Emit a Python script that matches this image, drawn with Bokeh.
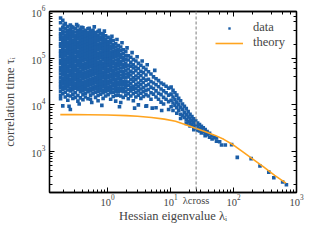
from bokeh.plotting import figure
from bokeh.models import (Span, Legend, LegendItem, LogAxis, CustomJSTickFormatter,
                          Range1d, FixedTicker, LogTickFormatter)
from bokeh.embed import file_html
from bokeh.resources import INLINE

# ---- data (log10 units), grouped by eigenvalue column ----
col_log10_lambda = [
    -0.745, -0.71, -0.67, -0.63, -0.59, -0.55, -0.51, -0.47, -0.43, -0.39,
    -0.35, -0.31, -0.27, -0.23, -0.19, -0.15, -0.11, -0.07, -0.03,
    0.01, 0.05, 0.09, 0.13, 0.17, 0.21, 0.25, 0.29,
    0.33, 0.37, 0.41, 0.45, 0.49, 0.53, 0.57, 0.61,
    0.65, 0.69, 0.73, 0.77, 0.81, 0.85, 0.89, 0.93, 0.97,
    1.01, 1.04, 1.07, 1.10, 1.13, 1.16, 1.19, 1.22, 1.25, 1.28, 1.31, 1.34, 1.37, 1.40,
    1.43, 1.46, 1.49, 1.52, 1.55, 1.58, 1.62, 1.66, 1.70, 1.73, 1.78, 1.81, 1.87, 1.97,
    2.06, 2.28, 2.42, 2.56, 2.64, 2.78, 2.84,
    -0.69, -0.57, -0.49, -0.41, -0.29, -0.21, -0.13, -0.05, 0.07, 0.15, 0.23, 0.31,
    0.39, 0.47, 0.55, 0.63, 0.75,
    -0.61, -0.45, -0.25, -0.09, 0.19, 0.43, 0.62, 0.71, 0.86,
]
col_log10_tau = [
    [5.86, 5.76, 5.62, 5.53, 5.47, 5.40, 5.31, 5.25, 5.16, 5.10, 5.03, 4.95, 4.88, 4.80, 4.73, 4.66, 4.58, 4.51, 4.44, 4.37, 4.29, 4.20, 4.13],
    [5.81, 5.66, 5.58, 5.52, 5.45, 5.39, 5.33, 5.27, 5.20, 5.14, 5.08, 5.01, 4.95, 4.89, 4.83, 4.76, 4.70, 4.64, 4.57, 4.51, 4.45, 4.38, 4.33, 4.24, 3.98],
    [5.74, 5.63, 5.56, 5.49, 5.43, 5.36, 5.30, 5.24, 5.17, 5.11, 5.05, 4.98, 4.92, 4.86, 4.80, 4.73, 4.67, 4.61, 4.54, 4.48, 4.42, 4.35, 4.27, 4.17],
    [5.68, 5.60, 5.53, 5.47, 5.41, 5.34, 5.28, 5.21, 5.15, 5.09, 5.02, 4.96, 4.90, 4.83, 4.77, 4.71, 4.64, 4.58, 4.52, 4.46, 4.39, 4.32, 4.21, 4.10],
    [5.71, 5.62, 5.55, 5.50, 5.44, 5.37, 5.31, 5.25, 5.19, 5.12, 5.06, 5.00, 4.93, 4.87, 4.81, 4.74, 4.68, 4.62, 4.55, 4.49, 4.43, 4.36, 4.30, 4.19, 3.90],
    [5.66, 5.58, 5.52, 5.46, 5.39, 5.33, 5.27, 5.20, 5.14, 5.08, 5.01, 4.95, 4.89, 4.82, 4.76, 4.70, 4.63, 4.57, 4.51, 4.44, 4.38, 4.32, 4.23, 4.14],
    [5.64, 5.56, 5.49, 5.43, 5.36, 5.30, 5.23, 5.17, 5.11, 5.04, 4.98, 4.92, 4.85, 4.79, 4.73, 4.66, 4.60, 4.54, 4.47, 4.41, 4.35, 4.26, 4.16],
    [5.69, 5.60, 5.53, 5.47, 5.41, 5.34, 5.28, 5.22, 5.15, 5.09, 5.03, 4.96, 4.90, 4.84, 4.77, 4.71, 4.65, 4.58, 4.52, 4.46, 4.39, 4.33, 4.20, 4.08],
    [5.62, 5.55, 5.49, 5.42, 5.36, 5.29, 5.23, 5.17, 5.10, 5.04, 4.98, 4.91, 4.85, 4.79, 4.72, 4.66, 4.60, 4.53, 4.47, 4.41, 4.35, 4.28, 4.15],
    [5.65, 5.57, 5.51, 5.44, 5.38, 5.32, 5.25, 5.19, 5.13, 5.06, 5.00, 4.94, 4.87, 4.81, 4.75, 4.68, 4.62, 4.56, 4.49, 4.43, 4.37, 4.30, 4.22, 4.11],
    [5.60, 5.53, 5.46, 5.40, 5.34, 5.27, 5.21, 5.15, 5.08, 5.02, 4.96, 4.89, 4.83, 4.77, 4.70, 4.64, 4.58, 4.51, 4.45, 4.39, 4.33, 4.25, 4.17],
    [5.63, 5.55, 5.48, 5.42, 5.36, 5.29, 5.23, 5.17, 5.10, 5.04, 4.98, 4.91, 4.85, 4.79, 4.72, 4.66, 4.60, 4.53, 4.47, 4.41, 4.34, 4.28, 4.13],
    [5.58, 5.51, 5.44, 5.38, 5.31, 5.25, 5.19, 5.12, 5.06, 5.00, 4.93, 4.87, 4.81, 4.74, 4.68, 4.62, 4.55, 4.49, 4.43, 4.36, 4.30, 4.21, 4.12],
    [5.60, 5.52, 5.46, 5.40, 5.33, 5.27, 5.21, 5.14, 5.08, 5.02, 4.95, 4.89, 4.83, 4.76, 4.70, 4.64, 4.57, 4.51, 4.45, 4.38, 4.32, 4.24],
    [5.55, 5.48, 5.42, 5.35, 5.29, 5.23, 5.16, 5.10, 5.04, 4.97, 4.91, 4.85, 4.78, 4.72, 4.66, 4.59, 4.53, 4.47, 4.40, 4.34, 4.27, 4.16],
    [5.57, 5.49, 5.43, 5.37, 5.30, 5.24, 5.18, 5.11, 5.05, 4.99, 4.92, 4.86, 4.80, 4.73, 4.67, 4.61, 4.54, 4.48, 4.42, 4.35, 4.29, 4.20, 4.09],
    [5.52, 5.45, 5.39, 5.32, 5.26, 5.20, 5.13, 5.07, 5.01, 4.94, 4.88, 4.82, 4.75, 4.69, 4.63, 4.56, 4.50, 4.44, 4.37, 4.31, 4.23],
    [5.53, 5.46, 5.40, 5.34, 5.27, 5.21, 5.15, 5.08, 5.02, 4.96, 4.89, 4.83, 4.77, 4.70, 4.64, 4.58, 4.51, 4.45, 4.39, 4.32, 4.26, 4.14],
    [5.48, 5.41, 5.35, 5.29, 5.22, 5.16, 5.10, 5.03, 4.97, 4.91, 4.84, 4.78, 4.72, 4.65, 4.59, 4.53, 4.46, 4.40, 4.34, 4.28, 4.19],
    [5.45, 5.36, 5.30, 5.23, 5.17, 5.10, 5.04, 4.97, 4.91, 4.84, 4.77, 4.71, 4.64, 4.58, 4.51, 4.45, 4.38, 4.31, 4.22],
    [5.40, 5.33, 5.26, 5.20, 5.13, 5.06, 5.00, 4.93, 4.86, 4.80, 4.73, 4.66, 4.60, 4.53, 4.47, 4.40, 4.33, 4.26, 4.12],
    [5.38, 5.29, 5.22, 5.15, 5.08, 5.01, 4.94, 4.88, 4.81, 4.74, 4.67, 4.61, 4.54, 4.47, 4.41, 4.34, 4.27, 4.18],
    [5.31, 5.24, 5.17, 5.10, 5.03, 4.96, 4.89, 4.82, 4.75, 4.68, 4.62, 4.55, 4.48, 4.41, 4.35, 4.28, 4.20, 4.08],
    [5.27, 5.19, 5.12, 5.05, 4.98, 4.91, 4.84, 4.77, 4.70, 4.63, 4.56, 4.49, 4.43, 4.36, 4.29, 4.21],
    [5.24, 5.16, 5.08, 5.01, 4.93, 4.86, 4.79, 4.72, 4.64, 4.57, 4.50, 4.43, 4.36, 4.30, 4.19, 4.05],
    [5.18, 5.10, 5.02, 4.95, 4.87, 4.80, 4.72, 4.65, 4.58, 4.50, 4.43, 4.36, 4.28, 4.16],
    [5.14, 5.05, 4.97, 4.89, 4.82, 4.74, 4.66, 4.59, 4.51, 4.44, 4.37, 4.29, 4.21],
    [5.05, 4.96, 4.85, 4.77, 4.68, 4.60, 4.49, 4.42, 4.33, 4.24, 4.13],
    [5.02, 4.91, 4.83, 4.72, 4.64, 4.55, 4.46, 4.38, 4.30, 4.19],
    [4.97, 4.86, 4.79, 4.69, 4.58, 4.51, 4.40, 4.33, 4.24, 4.09],
    [4.94, 4.81, 4.73, 4.62, 4.54, 4.44, 4.36, 4.27, 4.17],
    [4.89, 4.78, 4.67, 4.58, 4.47, 4.39, 4.30, 4.21, 4.00],
    [4.85, 4.72, 4.63, 4.52, 4.43, 4.34, 4.25, 4.14],
    [4.80, 4.69, 4.57, 4.48, 4.37, 4.28, 4.18],
    [4.76, 4.64, 4.53, 4.41, 4.31, 4.22, 3.97],
    [4.71, 4.55, 4.44, 4.33, 4.19],
    [4.66, 4.50, 4.38, 4.26, 4.12],
    [4.60, 4.47, 4.35, 4.23],
    [4.56, 4.43, 4.30, 4.17, 3.94],
    [4.52, 4.39, 4.25, 4.12],
    [4.47, 4.34, 4.22, 4.06],
    [4.44, 4.30, 4.16, 4.02],
    [4.40, 4.26, 4.12],
    [4.36, 4.21, 4.07, 3.90],
    [4.38, 4.23, 4.10, 3.96],
    [4.31, 4.17, 4.04, 3.88],
    [4.26, 4.12, 3.99],
    [4.21, 4.06, 3.94, 3.82],
    [4.14, 4.01, 3.88],
    [4.09, 3.95, 3.80, 3.71],
    [4.02, 3.90, 3.77],
    [3.97, 3.84, 3.73],
    [3.92, 3.79, 3.68, 3.60],
    [3.86, 3.74, 3.64],
    [3.80, 3.70, 3.62, 3.55],
    [3.75, 3.66, 3.58],
    [3.70, 3.62, 3.54, 3.47],
    [3.66, 3.57, 3.50],
    [3.61, 3.53, 3.46],
    [3.58, 3.50, 3.44],
    [3.54, 3.47, 3.40],
    [3.51, 3.43],
    [3.47, 3.39, 3.34],
    [3.43, 3.36],
    [3.39, 3.31],
    [3.34, 3.27],
    [3.30],
    [3.29, 3.22],
    [3.21],
    [3.14],
    [3.14],
    [3.15],
    [2.875],
    [2.85],
    [2.69],
    [2.56],
    [2.44],
    [2.35],
    [2.29],
    [5.71], [5.68], [5.72], [5.66], [5.64], [5.67], [5.60], [5.58], [5.47], [5.40], [5.33], [5.22],
    [5.12], [5.03], [4.94], [4.86], [4.74],
    [3.97], [4.02], [4.05], [3.99], [3.96], [3.93], [3.98], [3.93], [3.88],
]

theory_lambda = [0.178, 0.3, 0.5, 1, 2, 3, 5, 8, 12, 17, 25, 35, 50, 70, 100, 150, 200, 300, 450, 680]
theory_tau = [6200, 6190, 6170, 6080, 5900, 5700, 5350, 4950, 4450, 3800, 3150, 2700, 2250, 1830, 1380, 930, 700, 470, 310, 212]

lambda_cross = 25.5
x_limits = (0.12, 1000)
y_limits = (133, 1e6)
x_major_ticks = [1, 10, 100, 1000]
x_minor_ticks = [0.2, 0.3, 0.4, 0.5, 0.6, 0.7, 0.8, 0.9,
                 2, 3, 4, 5, 6, 7, 8, 9, 20, 30, 40, 50, 60, 70, 80, 90,
                 200, 300, 400, 500, 600, 700, 800, 900]

# ---- build the scatter table ----
lam, tau = [], []
for lx, lys in zip(col_log10_lambda, col_log10_tau):
    for ly in lys:
        lam.append(10 ** lx)
        tau.append(10 ** ly)

BLUE = "#1b5ea7"
ORANGE = "#ffa41f"
FONT = "Liberation Serif"

p = figure(width=304, height=225, x_axis_type="log", y_axis_type="log",
           x_range=Range1d(*x_limits), y_range=Range1d(*y_limits),
           output_backend="svg", toolbar_location=None,
           min_border_left=48, min_border_right=8, min_border_top=11, min_border_bottom=28)
p.grid.visible = False
p.outline_line_color = "black"
p.outline_line_width = 1.3

sc = p.scatter(x=lam, y=tau, size=3.6, marker="square", fill_color=BLUE, line_color=None)
ln = p.line(x=theory_lambda, y=theory_tau, line_color=ORANGE, line_width=1.6)

p.add_layout(Span(location=lambda_cross, dimension="height", line_color="#9a9a9a",
                  line_dash="3 2", line_width=1.3))

xa = p.xaxis[0]
xa.ticker = FixedTicker(ticks=x_major_ticks + [lambda_cross], minor_ticks=x_minor_ticks)
xa.formatter = LogTickFormatter()
xa.major_label_overrides = {lambda_cross: "λcross"}

for ax in (p.xaxis[0], p.yaxis[0]):
    ax.major_tick_in = 5
    ax.major_tick_out = 0
    ax.minor_tick_in = 3
    ax.minor_tick_out = 0
    ax.axis_line_width = 1.3
    ax.major_label_text_font = FONT
    ax.major_label_text_font_size = "10.5px"
    ax.axis_label_text_font = FONT
    ax.axis_label_text_font_style = "normal"
    ax.axis_label_text_font_size = "12.5px"

p.xaxis.axis_label = "Hessian eigenvalue λᵢ"
p.yaxis.axis_label = "correlation time τᵢ"
p.xaxis.major_label_standoff = 2
p.xaxis.axis_label_standoff = 0
p.yaxis.major_label_standoff = 4
p.yaxis.axis_label_standoff = 11

for loc in ("above", "right"):
    ax = LogAxis()
    ax.major_tick_in = 5
    ax.major_tick_out = 0
    ax.minor_tick_in = 3
    ax.minor_tick_out = 0
    ax.axis_line_width = 1.3
    ax.major_label_standoff = 0
    ax.major_label_text_font_size = "0px"
    ax.formatter = CustomJSTickFormatter(code="return ''")
    p.add_layout(ax, loc)

legend = Legend(items=[LegendItem(label="data", renderers=[sc]),
                       LegendItem(label="theory", renderers=[ln])],
                location=(166, 142), border_line_color=None, background_fill_alpha=0,
                label_text_font=FONT, label_text_font_size="12.5px",
                glyph_width=28, glyph_height=6, label_height=15, label_standoff=10,
                spacing=0, padding=2, margin=0)
p.add_layout(legend)

open("out.html", "w").write(file_html(p, INLINE))
